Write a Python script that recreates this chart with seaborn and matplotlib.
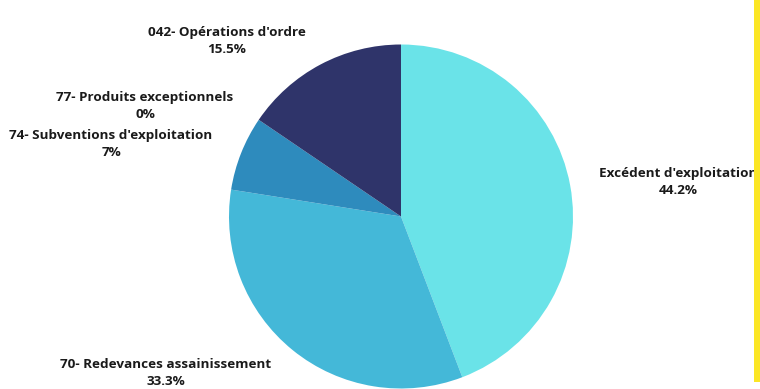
import matplotlib
matplotlib.use("Agg")
import matplotlib.pyplot as plt
import seaborn as sns
from matplotlib.patches import Rectangle

sns.set_theme(style="white")
plt.rcParams["font.family"] = ["Open Sans", "DejaVu Sans"]

# données
categories = ["Excédent d'exploitation", "70- Redevances assainissement",
              "74- Subventions d'exploitation", "77- Produits exceptionnels",
              "042- Opérations d'ordre"]
values = [44.2, 33.3, 7.0, 0.0, 15.5]
pct_labels = ["44.2%", "33.3%", "7%", "0%", "15.5%"]
colors = ["#6ae3e8", "#44b8d8", "#2e8bbd", "#2e8bbd", "#2f346a"]

# position des étiquettes (en rayons)
label_pos = [(1.61, 0.202), (-1.366, -0.908), (-1.686, 0.422), (-1.488, 0.642), (-1.012, 1.022)]

fig = plt.figure(figsize=(7.6, 3.89), dpi=100)
ax = fig.add_axes([0, 0, 1, 1])

ax.pie(values, colors=colors, startangle=90, counterclock=False,
       wedgeprops=dict(linewidth=0))

for cat, pct, (x, y) in zip(categories, pct_labels, label_pos):
    ax.text(x, y, f"{cat}\n{pct}", ha="center", va="center",
            fontsize=9.7, fontweight="bold", color="#1a1a1a", linespacing=1.4)

ax.set_xlim(-401 / 172, 359 / 172)
ax.set_ylim(-172.5 / 172, 216.5 / 172)
ax.set_aspect("equal")
ax.axis("off")

# barre jaune à droite
fig.add_artist(Rectangle((754 / 760, 7 / 389), 6 / 760, 1, transform=fig.transFigure,
                         color="#fbe625", linewidth=0))

fig.savefig("out.png", dpi=100)
